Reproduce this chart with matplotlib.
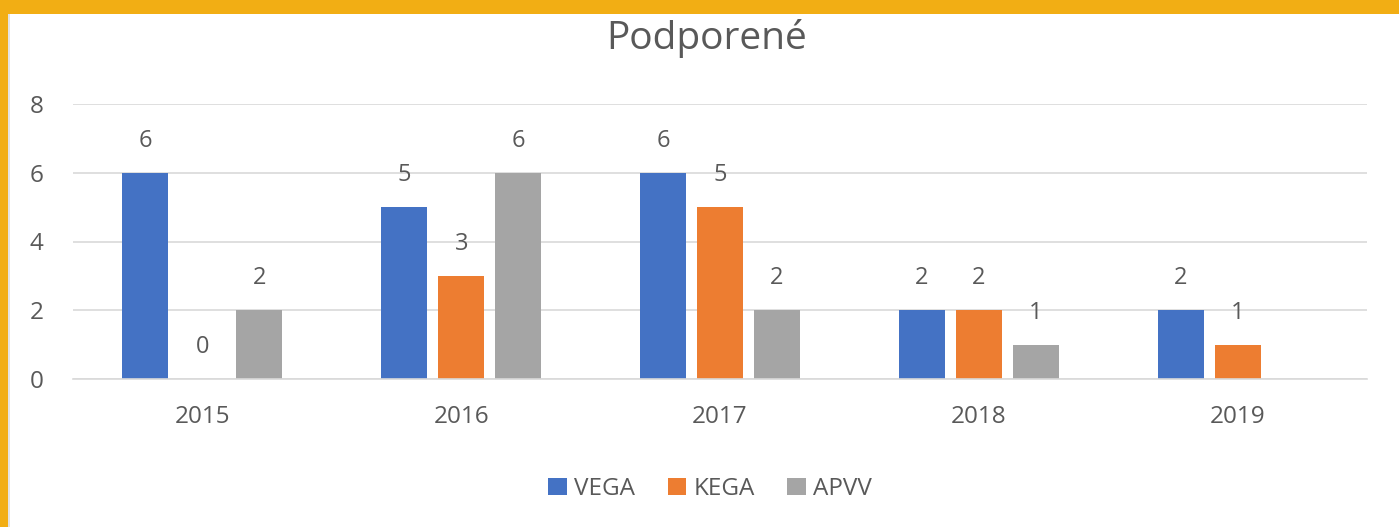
import matplotlib
matplotlib.use("Agg")
import matplotlib.pyplot as plt
from matplotlib.patches import Rectangle
import numpy as np

years = ["2015", "2016", "2017", "2018", "2019"]
vega = [6, 5, 6, 2, 2]
kega = [0, 3, 5, 2, 1]
apvv = [2, 6, 2, 1, None]
series_names = ["VEGA", "KEGA", "APVV"]
colors = ["#4472C4", "#ED7D31", "#A5A5A5"]

plt.rcParams['font.family'] = ['Open Sans', 'DejaVu Sans']
txt = "#595959"

fig = plt.figure(figsize=(13.99, 5.27), dpi=100)
fig.patch.set_facecolor("white")
# border bands
fig.patches.append(Rectangle((0, 1 - 14/527), 1, 14/527, transform=fig.transFigure,
                             facecolor="#F2AE14", edgecolor="none", zorder=0))
fig.patches.append(Rectangle((0, 0), 8/1399, 1, transform=fig.transFigure,
                             facecolor="#F2AE14", edgecolor="none", zorder=0))
fig.patches.append(Rectangle((8/1399, 0), 2/1399, 1 - 14/527, transform=fig.transFigure,
                             facecolor="#E3E3E3", edgecolor="none", zorder=0))

ax = fig.add_axes([73/1399, 1 - 379/527, (1367 - 73)/1399, (379 - 104)/527])
x = np.arange(len(years))
w = 0.178
offs = [-0.22, 0.0, 0.22]
handles = []
for data, off, c, name in zip([vega, kega, apvv], offs, colors, series_names):
    xs = [xi + off for xi, v in zip(x, data) if v is not None]
    vs = [v for v in data if v is not None]
    b = ax.bar(xs, vs, width=w, color=c, label=name, zorder=2)
    handles.append(b)
    for xi, v in zip(xs, vs):
        ax.annotate(str(v), (xi, v), xytext=(0, 23), textcoords="offset points",
                    ha="center", va="center", fontsize=17, color=txt)

ax.set_xlim(-0.5, 4.5)
ax.set_ylim(0, 8)
ax.set_yticks([0, 2, 4, 6, 8])
ax.set_xticks(x)
ax.set_xticklabels(years)
ax.grid(axis="y", color="#D9D9D9", linewidth=1.2, zorder=0)
ax.set_axisbelow(True)
for s in ["top", "right", "left"]:
    ax.spines[s].set_visible(False)
ax.spines["bottom"].set_color("#D9D9D9")
ax.spines["bottom"].set_linewidth(1.2)
ax.tick_params(axis="both", length=0, labelsize=17.5, colors=txt)
ax.tick_params(axis="y", pad=21)
ax.tick_params(axis="x", pad=19)

fig.text(0.505, 1 - 49/527, "Podporené", ha="center", va="baseline", fontsize=28, color=txt)

fig.legend(handles=handles, labels=series_names, loc="center", bbox_to_anchor=(710/1399, 1 - 489/527),
           ncol=3, frameon=False, fontsize=17.5, labelcolor=txt, handlelength=0.75,
           handleheight=0.75, handletextpad=0.3, columnspacing=1.35)

fig.savefig("out.png", dpi=100, facecolor="white")
